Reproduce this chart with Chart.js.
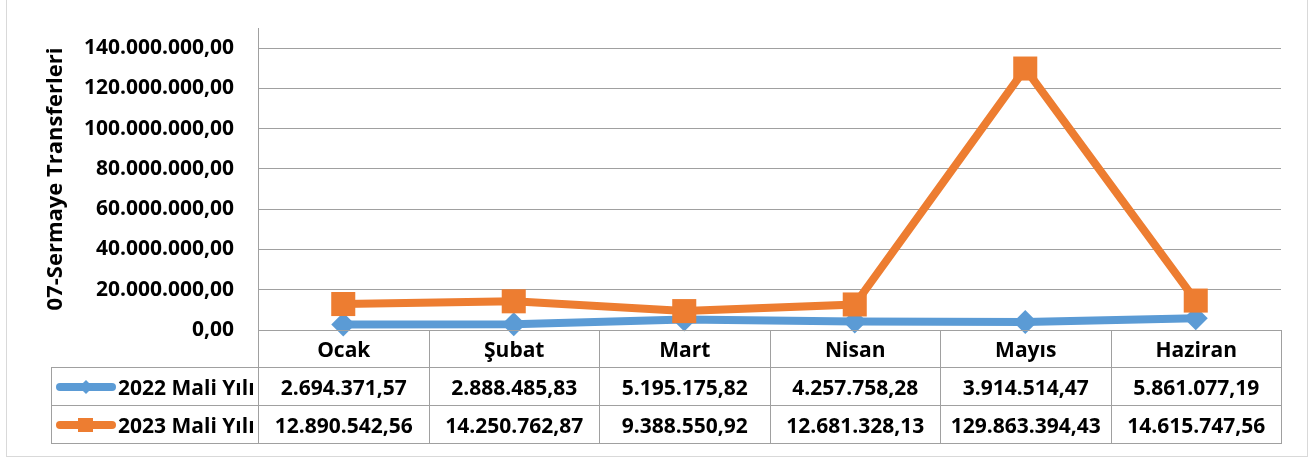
<!DOCTYPE html>
<html>
<head>
<meta charset="utf-8">
<script src="https://cdn.jsdelivr.net/npm/chart.js@4.4.1/dist/chart.umd.min.js"></script>
<style>
html, body { margin: 0; padding: 0; background: #fff; }
#wrap { position: relative; width: 1314px; height: 457px; overflow: hidden; font-family: 'Open Sans', sans-serif; }
#frame { position: absolute; left: 6px; top: -2px; width: 1302px; height: 459px; border: 1px solid #d9d9d9; box-sizing: border-box; }
#chart { position: absolute; left: 0; top: 0; }
#dataTable { position: absolute; border-collapse: collapse; table-layout: fixed; font-weight: bold; font-size: 21px; color: #000; }
#dataTable td { border: 1px solid #a0a0a0; text-align: center; padding: 0; white-space: nowrap; overflow: visible; }
#dataTable td.blank { border-top: none; border-left: none; }
#dataTable td.lbl { text-align: left; padding-left: 4px; }
.key { display: inline-block; position: relative; width: 60px; height: 8px; border-radius: 4px; vertical-align: middle; margin-right: 2px; top: -2px; }
.key i { position: absolute; left: 50%; top: 50%; }
.key .diamond { width: 10px; height: 10px; margin: -5px 0 0 -5px; transform: rotate(45deg); }
.key .square { width: 15px; height: 14px; margin: -7px 0 0 -8px; }
</style>
</head>
<body>
<div id="wrap">
  <div id="frame"></div>
  <canvas id="chart" width="1314" height="457"></canvas>
  <table id="dataTable"></table>
</div>
<script>
// Veriler (tablodan okunan degerler)
const months = ['Ocak', 'Şubat', 'Mart', 'Nisan', 'Mayıs', 'Haziran'];
const seriesNames = ['2022 Mali Yılı', '2023 Mali Yılı'];
const values2022 = [2694371.57, 2888485.83, 5195175.82, 4257758.28, 3914514.47, 5861077.19];
const values2023 = [12890542.56, 14250762.87, 9388550.92, 12681328.13, 129863394.43, 14615747.56];
const yAxisTitle = '07-Sermaye Transferleri';
const yTickValues = [0, 20000000, 40000000, 60000000, 80000000, 100000000, 120000000, 140000000];
const yMax = 150000000; // eksen cizgisi son etiketin biraz ustune uzaniyor

const blue = '#5b9bd5';
const orange = '#ed7d31';
const gridColor = '#a0a0a0';

// Türkçe sayı biçimi: 12.345.678,90
function formatTR(v) {
    const parts = Math.abs(v).toFixed(2).split('.');
    const intPart = parts[0].replace(/\B(?=(\d{3})+(?!\d))/g, '.');
    return (v < 0 ? '-' : '') + intPart + ',' + parts[1];
}

Chart.defaults.font.family = "'Open Sans', sans-serif";

const ctx = document.getElementById('chart').getContext('2d');
const chart = new Chart(ctx, {
    type: 'line',
    data: {
        labels: months,
        datasets: [
            {
                label: seriesNames[0],
                data: values2022,
                borderColor: blue,
                backgroundColor: blue,
                borderWidth: 8,
                pointStyle: 'rectRot',
                pointRadius: 12,
                pointBorderWidth: 0,
                tension: 0,
                order: 1,
                clip: false
            },
            {
                label: seriesNames[1],
                data: values2023,
                borderColor: orange,
                backgroundColor: orange,
                borderWidth: 8,
                pointStyle: 'rect',
                pointRadius: 17,
                pointBorderWidth: 0,
                tension: 0,
                order: 0,
                clip: false
            }
        ]
    },
    options: {
        responsive: false,
        animation: false,
        events: [],
        layout: { padding: { left: 0, right: 33, top: 28, bottom: 127 } },
        plugins: { legend: { display: false }, tooltip: { enabled: false } },
        scales: {
            x: { display: false, offset: true },
            y: {
                min: 0,
                max: yMax,
                afterFit: (scale) => {
                    scale.width = 258;
                    scale.paddingTop = 0;
                    scale.paddingBottom = 0;
                },
                afterBuildTicks: (scale) => {
                    scale.ticks = yTickValues.concat([yMax]).map(v => ({ value: v }));
                },
                border: { color: gridColor },
                grid: { color: gridColor, drawTicks: false },
                ticks: {
                    padding: 24,
                    color: '#000',
                    font: { size: 21, weight: 'bold' },
                    callback: (v) => (yTickValues.includes(v) ? formatTR(v) : null)
                },
                title: {
                    display: true,
                    text: yAxisTitle,
                    color: '#000',
                    font: { size: 22, weight: 'bold' },
                    padding: { top: 43, bottom: 0 }
                }
            }
        }
    }
});

// Veri tablosu: sütunlar grafiğin x eksenine göre hizalanir
function buildTable() {
    const area = chart.chartArea;
    const colW = (area.right - area.left) / months.length;
    const tableLeft = 51;
    const table = document.getElementById('dataTable');
    table.style.left = tableLeft + 'px';
    table.style.top = area.bottom + 'px';

    let html = '<colgroup><col style="width:' + (area.left - tableLeft) + 'px">';
    months.forEach(() => { html += '<col style="width:' + colW + 'px">'; });
    html += '</colgroup>';

    html += '<tr style="height:37px"><td class="blank"></td>';
    months.forEach(m => { html += '<td>' + m + '</td>'; });
    html += '</tr>';

    const rows = [
        { name: seriesNames[0], vals: values2022, color: blue, marker: 'diamond' },
        { name: seriesNames[1], vals: values2023, color: orange, marker: 'square' }
    ];
    rows.forEach(r => {
        html += '<tr style="height:38px"><td class="lbl"><span class="key" style="background:' + r.color + '">' +
            '<i class="' + r.marker + '" style="background:' + r.color + '"></i></span>' + r.name + '</td>';
        r.vals.forEach(v => { html += '<td>' + formatTR(v) + '</td>'; });
        html += '</tr>';
    });
    table.innerHTML = html;
    table.style.width = (area.right - tableLeft) + 'px';
}

buildTable();
</script>
</body>
</html>
